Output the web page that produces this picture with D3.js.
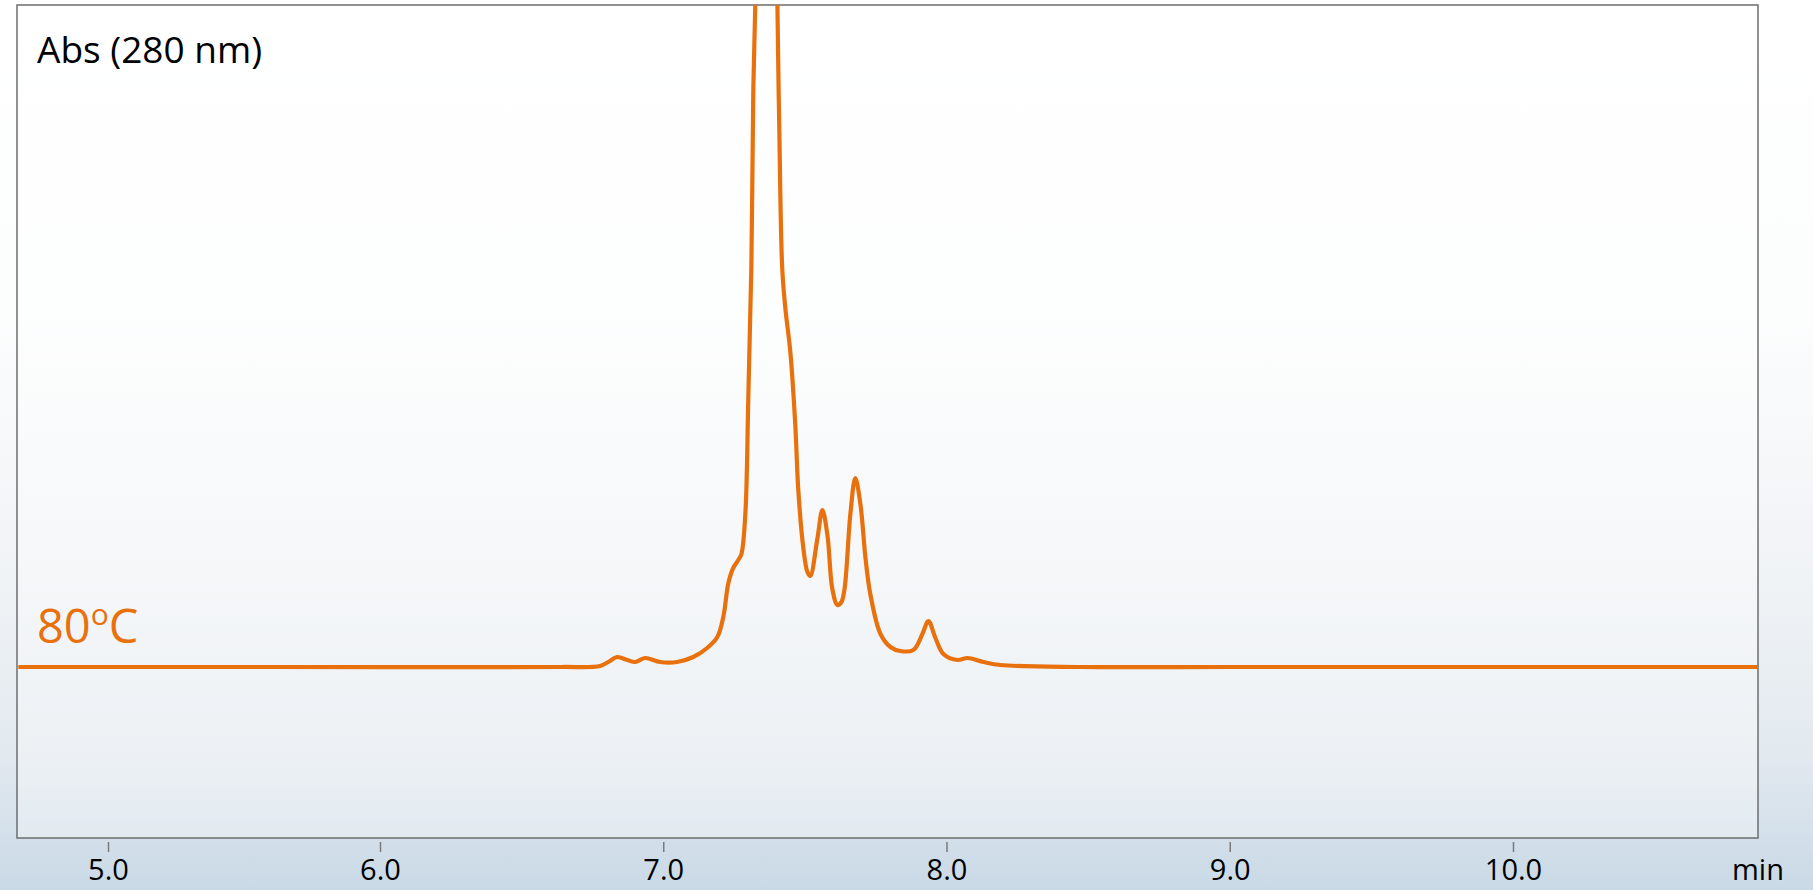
<!DOCTYPE html>
<html>
<head>
<meta charset="utf-8">
<script src="https://cdn.jsdelivr.net/npm/d3@7"></script>
<style>
  html, body { margin: 0; padding: 0; overflow: hidden; }
  body { width: 1813px; height: 890px; }
</style>
</head>
<body>
<div id="chart"></div>
<script>
// retention time (min) and absorbance (arbitrary units, baseline = 0)
const times = [4.67, 5.6, 6.636, 6.777, 6.806, 6.837, 6.873, 6.901, 6.936, 6.989, 7.049, 7.106,
  7.155, 7.191, 7.212, 7.230, 7.247, 7.265, 7.276, 7.290, 7.300, 7.311, 7.318, 7.325,
  7.343, 7.364, 7.385, 7.403, 7.410, 7.420, 7.431, 7.449, 7.466, 7.477, 7.495, 7.509,
  7.519, 7.544, 7.562, 7.580, 7.597, 7.615, 7.629, 7.640, 7.661, 7.678, 7.696,
  7.714, 7.731, 7.767, 7.802, 7.837, 7.883, 7.915, 7.936, 7.961, 7.989, 8.039, 8.074,
  8.131, 8.191, 8.473, 9.0, 9.7, 10.3, 10.865];
const absorb = [0, 0, 0, 0.1, 0.5, 1.0, 0.7, 0.5, 0.9, 0.5, 0.5, 1.0,
  1.9, 3.0, 5.0, 8.4, 9.9, 10.7, 11.3, 15.4, 26.5, 39.9, 57.8, 66.3,
  110, 130, 110, 66.3, 53.3, 39.9, 35.9, 31.4, 24.3, 17.6, 11.8, 9.5,
  9.1, 12.8, 15.7, 13.1, 7.8, 6.2, 6.5, 7.8, 15.4, 18.9, 16.3,
  10.9, 7.3, 3.3, 2.0, 1.6, 1.7, 3.3, 4.6, 2.9, 1.3, 0.7, 0.9,
  0.5, 0.2, 0.0, 0.0, 0.0, 0.0, 0.0];
const xTicks = [5, 6, 7, 8, 9, 10];
const yLabel = "Abs (280 nm)";
const xUnit = "min";
const traceLabel = "80";

const W = 1813, H = 890;
const box = { left: 17, top: 5, right: 1758, bottom: 838 };
const orange = "#E8710E";

const svg = d3.select("#chart").append("svg")
  .attr("width", W)
  .attr("height", H);

const defs = svg.append("defs");
const bg = defs.append("linearGradient")
  .attr("id", "bg").attr("x1", 0).attr("y1", 0).attr("x2", 0).attr("y2", 1);
bg.append("stop").attr("offset", "0%").attr("stop-color", "#ffffff");
bg.append("stop").attr("offset", "35%").attr("stop-color", "#fcfdfd");
bg.append("stop").attr("offset", "65%").attr("stop-color", "#f0f3f6");
bg.append("stop").attr("offset", "85%").attr("stop-color", "#e2e9ef");
bg.append("stop").attr("offset", "100%").attr("stop-color", "#c9d9e6");

defs.append("clipPath").attr("id", "plotClip")
  .append("rect")
  .attr("x", box.left).attr("y", box.top)
  .attr("width", box.right - box.left).attr("height", box.bottom - box.top);

svg.append("rect")
  .attr("width", W).attr("height", H)
  .attr("fill", "url(#bg)");

// scales (the 5.0 tick in the original sits a little off the even spacing)
const x = d3.scaleLinear()
  .domain([4.665, 5, 6, 10.865])
  .range([box.left, 108, 380, box.right]);
const y = d3.scaleLinear()
  .domain([-17.1, 66.2])
  .range([box.bottom, box.top]);

// plot frame
svg.append("rect")
  .attr("x", box.left).attr("y", box.top)
  .attr("width", box.right - box.left).attr("height", box.bottom - box.top)
  .attr("fill", "rgba(255,255,255,0.35)")
  .attr("stroke", "#6e6e6e")
  .attr("stroke-width", 1.5);

// trace
const data = times.map((t, i) => ({ t, v: absorb[i] }));
const line = d3.line()
  .x(d => x(d.t))
  .y(d => y(d.v))
  .curve(d3.curveCatmullRom.alpha(0.5));

svg.append("path")
  .datum(data)
  .attr("clip-path", "url(#plotClip)")
  .attr("fill", "none")
  .attr("stroke", orange)
  .attr("stroke-width", 4.2)
  .attr("stroke-linejoin", "round")
  .attr("d", line);

// x axis
const xAxis = d3.axisBottom(x)
  .tickValues(xTicks)
  .tickFormat(d3.format(".1f"))
  .tickSize(10);

const gx = svg.append("g")
  .attr("transform", `translate(0,${box.bottom + 4})`)
  .call(xAxis);
gx.select(".domain").remove();
gx.selectAll(".tick line").attr("stroke", "#7a7a7a").attr("stroke-width", 1.5);
gx.selectAll(".tick text")
  .attr("y", 38).attr("dy", 0)
  .attr("fill", "#000")
  .style("font-family", "'Open Sans', sans-serif")
  .style("font-size", "29px");

svg.append("text")
  .attr("x", box.right)
  .attr("y", 880)
  .attr("text-anchor", "middle")
  .style("font-family", "'Open Sans', sans-serif")
  .style("font-size", "29px")
  .attr("fill", "#000")
  .text(xUnit);

// labels
svg.append("text")
  .attr("x", 37)
  .attr("y", 63)
  .style("font-family", "'Open Sans', sans-serif")
  .style("font-size", "37px")
  .attr("fill", "#000")
  .text(yLabel);

const lab = svg.append("text")
  .attr("x", 37)
  .attr("y", 643)
  .style("font-family", "'Open Sans', sans-serif")
  .style("font-size", "47px")
  .attr("fill", orange);
lab.append("tspan").text(traceLabel);
lab.append("tspan").attr("dy", -18).style("font-size", "30px").text("o");
lab.append("tspan").attr("dy", 18).text("C");
</script>
</body>
</html>
